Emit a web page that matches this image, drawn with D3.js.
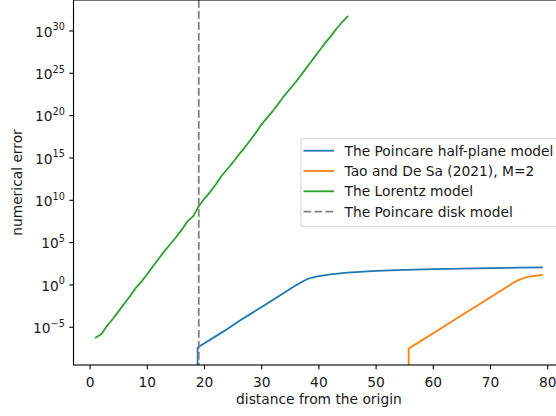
<!DOCTYPE html>
<html>
<head>
<meta charset="utf-8">
<script src="https://cdn.jsdelivr.net/npm/d3@7"></script>
<style>
  html, body { margin: 0; padding: 0; background: #fff; }
  #chart { width: 556px; height: 416px; overflow: hidden; }
  svg { display: block; font-family: "DejaVu Sans", sans-serif; }
</style>
</head>
<body>
<div id="chart"></div>
<script>
// Numerical error vs distance (values stored as log10 of the error; 0 error -> null exponent)
const lorentzX = [1, 2, 3, 4, 5, 6, 7, 8, 9, 10, 11, 12, 13, 14, 15, 16, 17, 18, 19, 20, 21, 22, 23,
    24, 25, 26, 27, 28, 29, 30, 31, 32, 33, 34, 35, 36, 37, 38, 39, 40, 41, 42, 43, 44, 45];
const lorentzLog = [-6.2, -5.8, -4.8, -4.0, -3.1, -2.2, -1.3, -0.35, 0.4, 1.3, 2.2, 3.1, 4.0, 4.8,
    5.6, 6.5, 7.5, 8.1, 9.3, 10.2, 11.0, 11.9, 12.9, 13.7, 14.5, 15.4, 16.2, 17.1, 18.0, 19.0, 19.8,
    20.6, 21.5, 22.4, 23.2, 24.0, 24.9, 25.8, 26.7, 27.6, 28.5, 29.3, 30.2, 31.0, 31.7];

const halfPlaneX = [18.8, 18.8, 20, 22, 24, 26, 28, 30, 32, 34, 35, 36, 37, 38, 39, 40, 42, 45,
    50, 55, 60, 65, 70, 75, 79];
const halfPlaneLog = [null, -7.4, -6.9, -6.05, -5.2, -4.3, -3.45, -2.6, -1.75, -0.9, -0.45, -0.05,
    0.35, 0.7, 0.9, 1.05, 1.25, 1.45, 1.65, 1.77, 1.86, 1.93, 1.99, 2.04, 2.07];

const taoX = [55.7, 55.7, 58, 60, 62, 64, 66, 68, 70, 72, 74, 75, 76, 77, 78, 79];
const taoLog = [null, -7.5, -6.55, -5.7, -4.85, -4.0, -3.15, -2.3, -1.45, -0.6, 0.25, 0.6, 0.85,
    1.0, 1.1, 1.18];

const diskX = 19;

const labels = ["The Poincare half-plane model", "Tao and De Sa (2021), M=2",
    "The Lorentz model", "The Poincare disk model"];
const colors = ["#1f77b4", "#ff7f0e", "#2ca02c", "#808080"];

const xTicks = [0, 10, 20, 30, 40, 50, 60, 70, 80];
const yTickExps = [-5, 0, 5, 10, 15, 20, 25, 30];

const W = 556, H = 416;
const margin = { left: 73.5, top: 0, right: 564.3, bottom: 365 };
const fs = 13.8;

function toSeries(xs, logs) {
    return xs.map((x, i) => ({ x: x, v: logs[i] === null ? 0 : Math.pow(10, logs[i]) }));
}
const series = [
    toSeries(halfPlaneX, halfPlaneLog),
    toSeries(taoX, taoLog),
    toSeries(lorentzX, lorentzLog)
];

// matplotlib-like 5% margins
const allX = lorentzX.concat(halfPlaneX, taoX);
const xMin = d3.min(allX), xMax = d3.max(allX);
const xPad = (xMax - xMin) * 0.05;
const allLog = lorentzLog.concat(halfPlaneLog, taoLog).filter(d => d !== null);
const lMin = d3.min(allLog), lMax = d3.max(allLog);
const lPad = (lMax - lMin) * 0.05;

const x = d3.scaleLinear().domain([xMin - xPad, xMax + xPad]).range([margin.left, margin.right]);
const y = d3.scaleLog().domain([Math.pow(10, lMin - lPad), Math.pow(10, lMax + lPad)])
    .range([margin.bottom, margin.top]);

const svg = d3.select("#chart").append("svg").attr("width", W).attr("height", H);

svg.append("clipPath").attr("id", "plot-clip").append("rect")
    .attr("x", margin.left).attr("y", margin.top)
    .attr("width", margin.right - margin.left).attr("height", margin.bottom - margin.top);

const plot = svg.append("g").attr("clip-path", "url(#plot-clip)");

const line = d3.line()
    .x(d => x(d.x))
    .y(d => d.v > 0 ? y(d.v) : margin.bottom + 200);

series.forEach((s, i) => {
    plot.append("path")
        .datum(s)
        .attr("d", line)
        .attr("fill", "none")
        .attr("stroke", colors[i])
        .attr("stroke-width", 1.8)
        .attr("stroke-linejoin", "round")
        .attr("stroke-linecap", "square");
});

plot.append("line")
    .attr("x1", x(diskX)).attr("x2", x(diskX))
    .attr("y1", margin.top).attr("y2", margin.bottom)
    .attr("stroke", colors[3])
    .attr("stroke-width", 1.8)
    .attr("stroke-dasharray", "7.7,3.3");

// spines
const spine = svg.append("g").attr("stroke", "#000").attr("stroke-width", 1.1).attr("fill", "none");
spine.append("rect")
    .attr("x", margin.left).attr("y", margin.top)
    .attr("width", margin.right - margin.left).attr("height", margin.bottom - margin.top);

// x axis
const xAxis = svg.append("g");
xTicks.forEach(t => {
    const px = x(t);
    xAxis.append("line").attr("x1", px).attr("x2", px)
        .attr("y1", margin.bottom).attr("y2", margin.bottom + 4.2)
        .attr("stroke", "#000").attr("stroke-width", 1.1);
    xAxis.append("text").attr("x", px).attr("y", 386.5)
        .attr("text-anchor", "middle").attr("font-size", fs).attr("fill", "#1a1a1a")
        .text(t);
});

// y axis
const yAxis = svg.append("g");
yTickExps.forEach(e => {
    const py = y(Math.pow(10, e));
    yAxis.append("line").attr("x1", margin.left - 4.2).attr("x2", margin.left)
        .attr("y1", py).attr("y2", py)
        .attr("stroke", "#000").attr("stroke-width", 1.1);
    const t = yAxis.append("text").attr("x", margin.left - 8.6).attr("y", py + 5.8)
        .attr("text-anchor", "end").attr("font-size", fs).attr("fill", "#1a1a1a");
    t.append("tspan").text("10");
    t.append("tspan").attr("dy", -6.5).attr("font-size", 9.7)
        .text(e < 0 ? "\u2212" + Math.abs(e) : String(e));
});

svg.append("text")
    .attr("x", (margin.left + margin.right) / 2).attr("y", 404)
    .attr("text-anchor", "middle").attr("font-size", fs).attr("fill", "#1a1a1a")
    .text("distance from the origin");

svg.append("text")
    .attr("transform", `translate(21.5, ${(margin.top + margin.bottom) / 2}) rotate(-90)`)
    .attr("text-anchor", "middle").attr("font-size", fs).attr("fill", "#1a1a1a")
    .text("numerical error");

// legend
const legend = svg.append("g");
legend.append("rect")
    .attr("x", 301).attr("y", 138.3).attr("width", 259).attr("height", 88.4)
    .attr("rx", 3).attr("fill", "rgba(255,255,255,0.8)")
    .attr("stroke", "#d6d6d6").attr("stroke-width", 1.1);
labels.forEach((lab, i) => {
    const cy = 150.7 + i * 20.3;
    legend.append("line")
        .attr("x1", 303.5).attr("x2", 334).attr("y1", cy).attr("y2", cy)
        .attr("stroke", colors[i]).attr("stroke-width", 1.8)
        .attr("stroke-dasharray", i === 3 ? "7.7,3.3" : null);
    legend.append("text").attr("x", 344.5).attr("y", cy + 4.9)
        .attr("font-size", fs).attr("fill", "#1a1a1a")
        .text(lab);
});
</script>
</body>
</html>
